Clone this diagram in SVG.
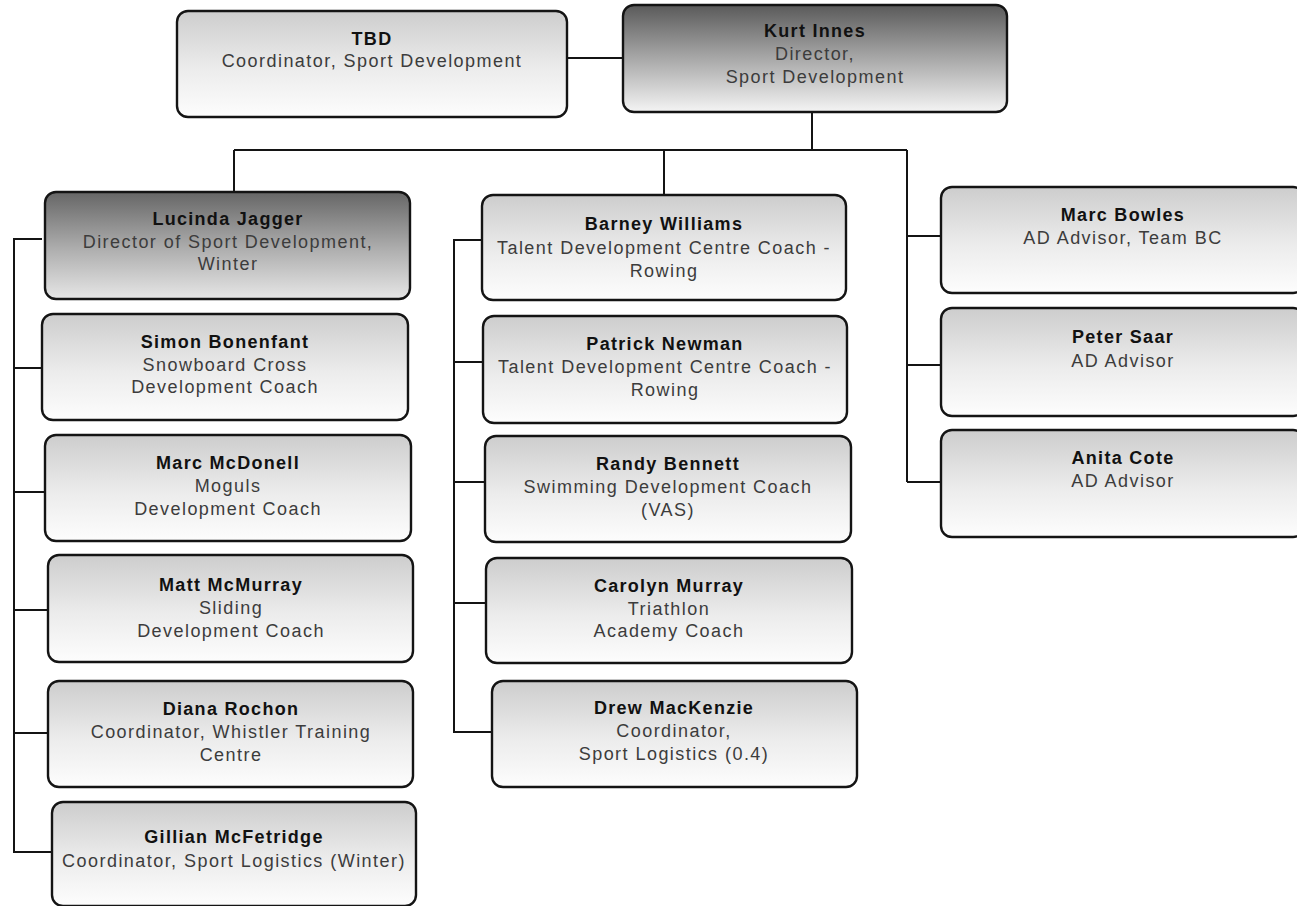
<svg xmlns="http://www.w3.org/2000/svg" width="1297" height="906" viewBox="0 0 1297 906">
  <defs>
    <linearGradient id="gLight" x1="0" y1="0" x2="0" y2="1">
      <stop offset="0" stop-color="#cdcdcd"/>
      <stop offset="0.55" stop-color="#ececec"/>
      <stop offset="1" stop-color="#fdfdfd"/>
    </linearGradient>
    <linearGradient id="gDark" x1="0" y1="0" x2="0" y2="1">
      <stop offset="0" stop-color="#5a5a5a"/>
      <stop offset="0.5" stop-color="#a8a8a8"/>
      <stop offset="1" stop-color="#f4f4f4"/>
    </linearGradient>
    <linearGradient id="gMid" x1="0" y1="0" x2="0" y2="1">
      <stop offset="0" stop-color="#666666"/>
      <stop offset="0.55" stop-color="#b0b0b0"/>
      <stop offset="1" stop-color="#e6e6e6"/>
    </linearGradient>
    <style>
      .box { fill: url(#gLight); stroke: #141414; stroke-width: 2.4; }
      .box.dark { fill: url(#gDark); }
      .box.mid { fill: url(#gMid); }
      .name { font-family: "Liberation Sans", Arial, sans-serif; font-size: 18px; font-weight: bold; fill: #111; text-anchor: middle; letter-spacing: 1.3px; }
      .role { font-family: "Liberation Sans", Arial, sans-serif; font-size: 18px; fill: #3c3c3c; text-anchor: middle; letter-spacing: 1.45px; }
      .wire { fill: none; stroke: #141414; stroke-width: 2; }
    </style>
  </defs>
  <rect width="1297" height="906" fill="#ffffff"/>

  <!-- reporting lines -->
  <g id="connectors">
    <path class="wire" d="M567 58 H623"/>
    <path class="wire" d="M812 112 V150 M234 150 H907 M234 150 V192 M664 150 V195 M907 150 V482"/>
    <!-- winter branch -->
    <path class="wire" d="M42 239 H14 V852 H52 M14 368 H42 M14 492 H45 M14 610 H48 M14 733 H48"/>
    <!-- talent development branch -->
    <path class="wire" d="M482 240 H454 V732 H492 M454 362 H483 M454 482 H485 M454 603 H486"/>
    <!-- advisors -->
    <path class="wire" d="M907 236 H941 M907 365 H941 M907 482 H941"/>
  </g>

  <g id="tbd">
    <rect class="box" x="177" y="11" width="390" height="106" rx="11"/>
    <text class="name" x="372" y="45">TBD</text>
    <text class="role" x="372" y="67">Coordinator, Sport Development</text>
  </g>
  <g id="kurt-innes">
    <rect class="box dark" x="623" y="5" width="384" height="107" rx="11"/>
    <text class="name" x="815" y="37">Kurt Innes</text>
    <text class="role" x="815" y="60">Director,</text>
    <text class="role" x="815" y="83">Sport Development</text>
  </g>

  <g id="lucinda-jagger">
    <rect class="box mid" x="45" y="192" width="365" height="107" rx="11"/>
    <text class="name" x="228" y="225">Lucinda Jagger</text>
    <text class="role" x="228" y="248">Director of Sport Development,</text>
    <text class="role" x="228" y="270">Winter</text>
  </g>
  <g id="simon-bonenfant">
    <rect class="box" x="42" y="314" width="366" height="106" rx="11"/>
    <text class="name" x="225" y="348">Simon Bonenfant</text>
    <text class="role" x="225" y="371">Snowboard Cross</text>
    <text class="role" x="225" y="393">Development Coach</text>
  </g>
  <g id="marc-mcdonell">
    <rect class="box" x="45" y="435" width="366" height="106" rx="11"/>
    <text class="name" x="228" y="469">Marc McDonell</text>
    <text class="role" x="228" y="492">Moguls</text>
    <text class="role" x="228" y="515">Development Coach</text>
  </g>
  <g id="matt-mcmurray">
    <rect class="box" x="48" y="555" width="365" height="107" rx="11"/>
    <text class="name" x="231" y="591">Matt McMurray</text>
    <text class="role" x="231" y="614">Sliding</text>
    <text class="role" x="231" y="637">Development Coach</text>
  </g>
  <g id="diana-rochon">
    <rect class="box" x="48" y="681" width="365" height="106" rx="11"/>
    <text class="name" x="231" y="715">Diana Rochon</text>
    <text class="role" x="231" y="738">Coordinator, Whistler Training</text>
    <text class="role" x="231" y="761">Centre</text>
  </g>
  <g id="gillian-mcfetridge">
    <rect class="box" x="52" y="802" width="364" height="104" rx="11"/>
    <text class="name" x="234" y="843">Gillian McFetridge</text>
    <text class="role" x="234" y="867">Coordinator, Sport Logistics (Winter)</text>
  </g>

  <g id="barney-williams">
    <rect class="box" x="482" y="195" width="364" height="105" rx="11"/>
    <text class="name" x="664" y="230">Barney Williams</text>
    <text class="role" x="664" y="254">Talent Development Centre Coach -</text>
    <text class="role" x="664" y="277">Rowing</text>
  </g>
  <g id="patrick-newman">
    <rect class="box" x="483" y="316" width="364" height="107" rx="11"/>
    <text class="name" x="665" y="350">Patrick Newman</text>
    <text class="role" x="665" y="373">Talent Development Centre Coach -</text>
    <text class="role" x="665" y="396">Rowing</text>
  </g>
  <g id="randy-bennett">
    <rect class="box" x="485" y="436" width="366" height="106" rx="11"/>
    <text class="name" x="668" y="470">Randy Bennett</text>
    <text class="role" x="668" y="493">Swimming Development Coach</text>
    <text class="role" x="668" y="516">(VAS)</text>
  </g>
  <g id="carolyn-murray">
    <rect class="box" x="486" y="558" width="366" height="105" rx="11"/>
    <text class="name" x="669" y="592">Carolyn Murray</text>
    <text class="role" x="669" y="615">Triathlon</text>
    <text class="role" x="669" y="637">Academy Coach</text>
  </g>
  <g id="drew-mackenzie">
    <rect class="box" x="492" y="681" width="365" height="106" rx="11"/>
    <text class="name" x="674" y="714">Drew MacKenzie</text>
    <text class="role" x="674" y="737">Coordinator,</text>
    <text class="role" x="674" y="760">Sport Logistics (0.4)</text>
  </g>

  <g id="marc-bowles">
    <rect class="box" x="941" y="187" width="363" height="106" rx="11"/>
    <text class="name" x="1123" y="221">Marc Bowles</text>
    <text class="role" x="1123" y="244">AD Advisor, Team BC</text>
  </g>
  <g id="peter-saar">
    <rect class="box" x="941" y="308" width="363" height="108" rx="11"/>
    <text class="name" x="1123" y="343">Peter Saar</text>
    <text class="role" x="1123" y="367">AD Advisor</text>
  </g>
  <g id="anita-cote">
    <rect class="box" x="941" y="430" width="363" height="107" rx="11"/>
    <text class="name" x="1123" y="464">Anita Cote</text>
    <text class="role" x="1123" y="487">AD Advisor</text>
  </g>
</svg>
